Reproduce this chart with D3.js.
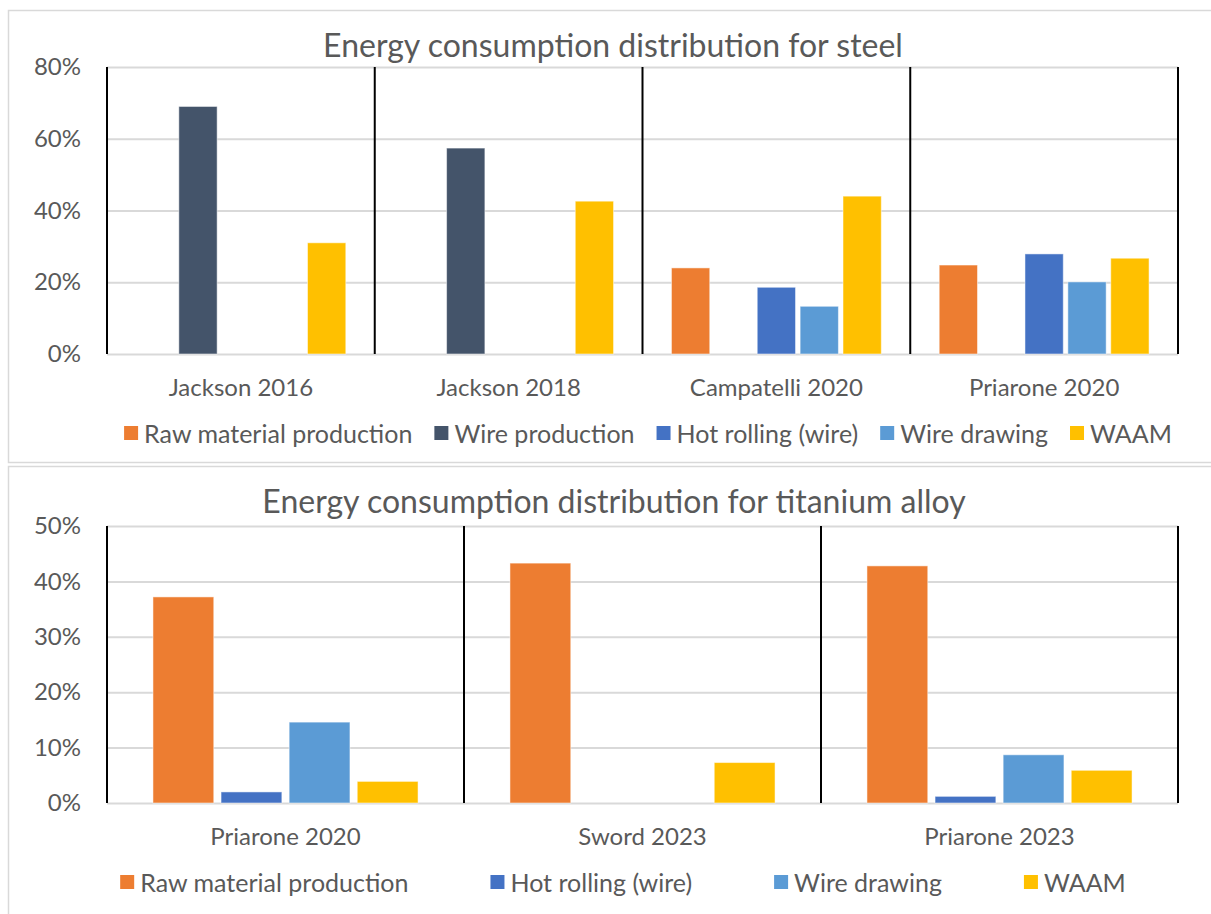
<!DOCTYPE html>
<html>
<head>
<meta charset="utf-8">
<script src="https://cdn.jsdelivr.net/npm/d3@7"></script>
<style>
  body { margin: 0; background: #fff; }
  svg text { font-family: Lato, "Open Sans", sans-serif; fill: #595959; }
</style>
</head>
<body>
<svg id="chart" width="1211" height="914"></svg>
<script>
// steel chart data (percent of total energy)
const steelStudies = ["Jackson 2016", "Jackson 2018", "Campatelli 2020", "Priarone 2020"];
const steelSeries = ["Raw material production", "Wire production", "Hot rolling (wire)", "Wire drawing", "WAAM"];
const steelRaw = [null, null, 24.0, 24.8];
const steelWireProd = [69.0, 57.4, null, null];
const steelHotRolling = [null, null, 18.6, 27.9];
const steelDrawing = [null, null, 13.3, 20.1];
const steelWaam = [31.0, 42.6, 44.0, 26.7];
const steelTicks = [0, 20, 40, 60, 80];

// titanium chart data
const tiStudies = ["Priarone 2020", "Sword 2023", "Priarone 2023"];
const tiSeries = ["Raw material production", "Hot rolling (wire)", "Wire drawing", "WAAM"];
const tiRaw = [37.2, 43.3, 42.8];
const tiHotRolling = [2.0, null, 1.2];
const tiDrawing = [14.6, null, 8.7];
const tiWaam = [3.9, 7.3, 5.9];
const tiTicks = [0, 10, 20, 30, 40, 50];

const colors = {
  "Raw material production": "#ED7D31",
  "Wire production": "#44546A",
  "Hot rolling (wire)": "#4472C4",
  "Wire drawing": "#5B9BD5",
  "WAAM": "#FFC000"
};

const svg = d3.select("#chart");
const plotLeft = 107, plotRight = 1178;

function drawChart(opt) {
  // outer frame
  svg.append("rect")
    .attr("x", 8.5).attr("y", opt.frameTop + 0.5)
    .attr("width", 1220).attr("height", opt.frameHeight)
    .attr("fill", "#fff").attr("stroke", "#d9d9d9").attr("stroke-width", 1.5);

  const g = svg.append("g");

  const x0 = d3.scaleBand().domain(opt.studies).range([plotLeft, plotRight]);
  const x1 = d3.scaleBand().domain(opt.series)
    .range([0, x0.bandwidth()]).paddingInner(0.107).paddingOuter(0.675);
  const y = d3.scaleLinear().domain([0, d3.max(opt.ticks)]).range([opt.bottom, opt.top]);

  // gridlines
  g.append("g")
    .attr("transform", `translate(${plotLeft},0)`)
    .call(d3.axisLeft(y).tickValues(opt.ticks).tickSize(-(plotRight - plotLeft)).tickFormat(""))
    .call(a => a.select(".domain").remove())
    .call(a => a.selectAll("line").attr("stroke", "#d9d9d9").attr("stroke-width", 2));

  // y labels
  g.append("g")
    .attr("transform", `translate(${plotLeft - 26},0)`)
    .call(d3.axisLeft(y).tickValues(opt.ticks).tickSize(0).tickFormat(d => d + "%"))
    .call(a => a.select(".domain").remove())
    .call(a => a.selectAll("text").attr("x", 0).attr("font-size", 24).attr("fill", "#595959"));

  // bars
  const rows = [];
  opt.studies.forEach((s, i) => {
    opt.series.forEach((k, j) => {
      const v = opt.values[j][i];
      if (v != null) rows.push({ study: s, series: k, value: v });
    });
  });
  g.append("g").selectAll("rect")
    .data(rows)
    .join("rect")
    .attr("x", d => x0(d.study) + x1(d.series))
    .attr("y", d => y(d.value))
    .attr("width", x1.bandwidth())
    .attr("height", d => y(0) - y(d.value))
    .attr("fill", d => colors[d.series])
    .attr("stroke", "#fff").attr("stroke-opacity", 0.5).attr("stroke-width", 1);

  // black category dividers
  const edges = opt.studies.map(s => x0(s)).concat([plotRight]);
  g.append("g").selectAll("line")
    .data(edges)
    .join("line")
    .attr("x1", d => d).attr("x2", d => d)
    .attr("y1", opt.top).attr("y2", opt.bottom)
    .attr("stroke", "#000").attr("stroke-width", 2);

  // category labels
  g.append("g")
    .attr("transform", `translate(0,${opt.bottom})`)
    .call(d3.axisBottom(x0).tickSize(0))
    .call(a => a.select(".domain").remove())
    .call(a => a.selectAll("text").attr("y", 25).attr("dy", "0.71em").attr("font-size", 24).attr("fill", "#595959"));

  // title
  svg.append("text")
    .attr("x", opt.titleX).attr("y", opt.titleY)
    .attr("text-anchor", "middle").attr("dominant-baseline", "central")
    .attr("font-size", 32)
    .text(opt.title);

  // legend
  const lg = svg.append("g");
  const items = lg.selectAll("g").data(opt.series).join("g");
  items.append("rect")
    .attr("width", 14).attr("height", 14).attr("y", -7)
    .attr("fill", d => colors[d]);
  items.append("text")
    .attr("x", 20).attr("dominant-baseline", "central")
    .attr("font-size", 25)
    .text(d => d);
  let cx = 0;
  items.each(function () {
    const w = 20 + this.querySelector("text").getComputedTextLength();
    d3.select(this).attr("transform", `translate(${cx},0)`);
    cx += w + opt.legendGap;
  });
  const total = cx - opt.legendGap;
  lg.attr("transform", `translate(${opt.legendCenter - total / 2},${opt.legendY})`);
}

drawChart({
  frameTop: 10, frameHeight: 452,
  top: 67, bottom: 354,
  studies: steelStudies, series: steelSeries,
  values: [steelRaw, steelWireProd, steelHotRolling, steelDrawing, steelWaam],
  ticks: steelTicks,
  title: "Energy consumption distribution for steel",
  titleX: 613, titleY: 44,
  legendY: 433, legendGap: 22, legendCenter: 648
});

drawChart({
  frameTop: 466, frameHeight: 460,
  top: 526, bottom: 803,
  studies: tiStudies, series: tiSeries,
  values: [tiRaw, tiHotRolling, tiDrawing, tiWaam],
  ticks: tiTicks,
  title: "Energy consumption distribution for titanium alloy",
  titleX: 614, titleY: 500,
  legendY: 882, legendGap: 82, legendCenter: 623
});
</script>
</body>
</html>
